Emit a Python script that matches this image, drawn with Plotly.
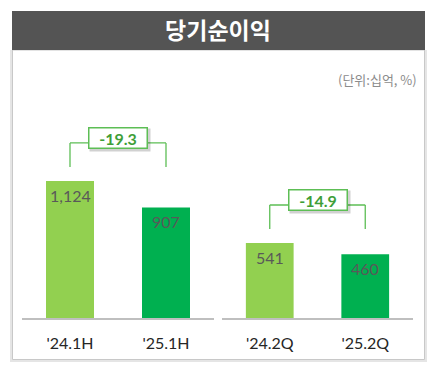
import plotly.graph_objects as go

# ---- data ----
title = "당기순이익"
unit_label = "(단위:십억, %)"
half_cats = ["'24.1H", "'25.1H"]
half_vals = [1124, 907]
half_change = "-19.3"
qtr_cats = ["'24.2Q", "'25.2Q"]
qtr_vals = [541, 460]
qtr_change = "-14.9"

W, H = 437, 378
LIGHT = "#92D050"
DARK = "#00B050"
FONT = "Lato"

def px_x(p):
    return p / W

def px_y(p):
    return 1 - p / H

fig = go.Figure()

panels = [
    (half_cats, half_vals, half_change, "x", "y", 1952),
    (qtr_cats, qtr_vals, qtr_change, "x2", "y2", 1717),
]

for cats, vals, chg, xa, ya, ymax in panels:
    fig.add_trace(go.Bar(
        x=cats, y=vals, xaxis=xa, yaxis=ya,
        marker=dict(color=[LIGHT, DARK], line=dict(width=0)),
        width=0.5, showlegend=False, hoverinfo="skip",
    ))

shapes = []
annotations = []

# background box shadow & border
shapes.append(dict(type="rect", xref="paper", yref="paper", layer="below",
                   x0=px_x(10), x1=px_x(427), y0=px_y(362), y1=px_y(50),
                   line=dict(width=0), fillcolor="rgba(0,0,0,0.10)"))
shapes.append(dict(type="rect", xref="paper", yref="paper", layer="below",
                   x0=px_x(12.5), x1=px_x(424.5), y0=px_y(359.5), y1=px_y(50),
                   line=dict(width=1, color="#C8C8C8"), fillcolor="white"))
# header
shapes.append(dict(type="rect", xref="paper", yref="paper", layer="below",
                   x0=px_x(12), x1=px_x(425), y0=px_y(50), y1=px_y(11),
                   line=dict(width=0), fillcolor="#545454"))
annotations.append(dict(text=unit_label, xref="paper", yref="paper",
                        x=px_x(419), y=px_y(68), xanchor="right", showarrow=False,
                        font=dict(family="Noto Sans CJK KR", size=13, color="#8C8C8C")))

for cats, vals, chg, xa, ya, ymax in panels:
    # value labels inside bars
    for c, v in zip(cats, vals):
        annotations.append(dict(text=f"{v:,}", x=c, y=v, xref=xa, yref=ya,
                                yanchor="top", yshift=-3, showarrow=False,
                                font=dict(family=FONT, size=16, color="#595959")))
    top = max(vals)
    # bracket: verticals and horizontal
    for i in range(2):
        shapes.append(dict(type="line", xref=xa, yref=ya, ysizemode="pixel",
                           yanchor=top, x0=i, x1=i, y0=14, y1=38,
                           line=dict(color="#5DBE55", width=1.3)))
    shapes.append(dict(type="line", xref=xa, yref=ya, ysizemode="pixel",
                       yanchor=top, x0=0, x1=1, y0=38, y1=38,
                       line=dict(color="#5DBE55", width=1.3)))
    # change box shadow and box
    annotations.append(dict(text=" ", x=0.5, y=top, xref=xa, yref=ya,
                            yshift=38 + 5 - 2, xshift=2, showarrow=False,
                            width=58, height=20, bgcolor="rgba(0,0,0,0.18)",
                            font=dict(size=10)))
    annotations.append(dict(text="<b>" + chg + "</b>", x=0.5, y=top, xref=xa, yref=ya,
                            yshift=38 + 5, showarrow=False,
                            width=57, height=19, bgcolor="white",
                            bordercolor="#5DBE55", borderwidth=1.5, borderpad=0,
                            font=dict(family=FONT, size=16, color="#3E9E38")))

axis_x = dict(showline=True, linecolor="#BFBFBF", linewidth=1.5, showgrid=False,
              zeroline=False, ticks="outside", ticklen=10, tickcolor="rgba(0,0,0,0)",
              tickfont=dict(family=FONT, size=16, color="#262626"), fixedrange=True)

fig.update_layout(
    width=W, height=H, margin=dict(l=0, r=0, t=0, b=0),
    paper_bgcolor="white", plot_bgcolor="rgba(0,0,0,0)",
    bargap=0.5,
    title=dict(text="<b>" + title + "</b>", x=px_x(218), xanchor="center",
               y=px_y(31), yanchor="middle", yref="container",
               font=dict(family="Noto Sans CJK KR", size=23, color="white")),
    xaxis=dict(domain=[px_x(22), px_x(214)], anchor="y", **axis_x),
    xaxis2=dict(domain=[px_x(222), px_x(413)], anchor="y2", **axis_x),
    yaxis=dict(domain=[1 - 318 / H, 1 - 80 / H], range=[0, 1952], visible=False, anchor="x"),
    yaxis2=dict(domain=[1 - 318 / H, 1 - 80 / H], range=[0, 1717], visible=False, anchor="x2"),
    shapes=shapes, annotations=annotations,
)

fig.write_html("out.html", config={"displayModeBar": False},
               post_script="document.body.style.margin='0';document.body.style.overflow='hidden';")
